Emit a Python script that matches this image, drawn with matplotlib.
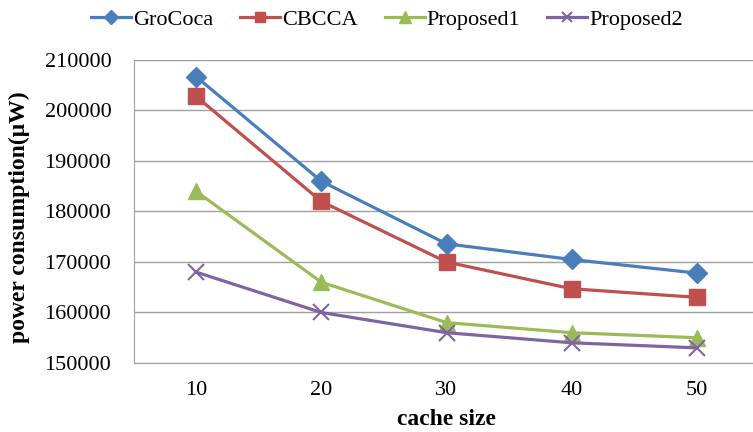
import matplotlib
matplotlib.use('Agg')
import matplotlib.pyplot as plt

plt.rcParams['font.family'] = ['Liberation Serif', 'DejaVu Serif']

cache_size = [10, 20, 30, 40, 50]
grococa = [206700, 186000, 173600, 170500, 167800]
cbcca = [202800, 182000, 170000, 164700, 163000]
proposed1 = [184000, 166000, 158000, 156000, 155000]
proposed2 = [168000, 160000, 156000, 154000, 153000]

series = [
    ('GroCoca', grococa, '#4A7EBB', 'D', 10),
    ('CBCCA', cbcca, '#C0504D', 's', 11),
    ('Proposed1', proposed1, '#9BBB59', '^', 12),
    ('Proposed2', proposed2, '#8064A2', 'x', 11),
]

fig = plt.figure(figsize=(7.53, 4.32), dpi=100)
ax = fig.add_axes([133.5 / 753, 69 / 432, 626 / 753, 303 / 432])

for name, vals, col, mk, ms in series:
    ax.plot(cache_size, vals, color=col, lw=2.3, marker=mk, markersize=ms,
            markeredgewidth=1.5 if mk == 'x' else 1, label=name)

ax.set_xlim(5, 55)
ax.set_ylim(150000, 210000)
ax.set_xticks(cache_size)
ax.set_yticks(range(150000, 210001, 10000))
ax.tick_params(axis='both', length=0, labelsize=16)
ax.tick_params(axis='y', pad=16)
ax.tick_params(axis='x', pad=13)
ax.grid(axis='y', color='#A0A0A0', lw=1)
ax.set_axisbelow(True)
for s in ['top', 'right']:
    ax.spines[s].set_visible(False)
for s in ['left', 'bottom']:
    ax.spines[s].set_color('#A0A0A0')

fig.text(19 / 753, 1 - 217 / 432, 'power consumption(\u03bcW)', rotation=90,
         ha='center', va='center', fontsize=17, fontweight='bold')
fig.text(446 / 753, 7 / 432, 'cache size', ha='center', va='baseline',
         fontsize=17, fontweight='bold')

fig.legend(loc='center', bbox_to_anchor=(387 / 753, 1 - 20 / 432), ncol=4,
           frameon=False, fontsize=16, handlelength=1.8, handletextpad=0.1,
           columnspacing=1.2, markerscale=0.7)

fig.savefig('out.png', dpi=100)
